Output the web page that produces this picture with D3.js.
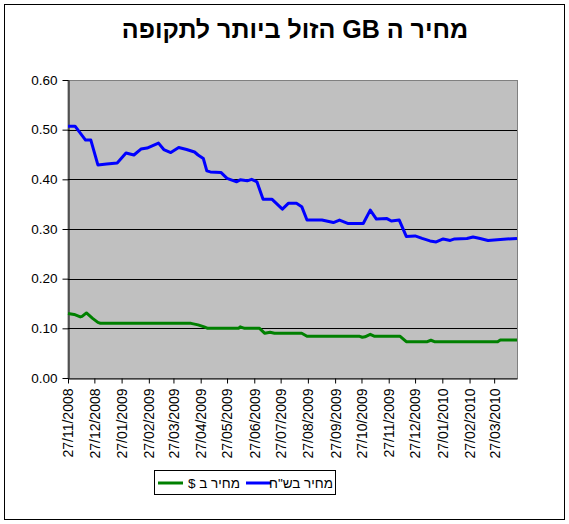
<!DOCTYPE html>
<html><head><meta charset="utf-8">
<script src="https://cdn.jsdelivr.net/npm/d3@7"></script>
<style>body{margin:0;background:#fff}svg{display:block}</style>
</head><body>
<script>
const title = "מחיר ה GB הזול ביותר לתקופה";
const seriesNames = ["מחיר ב $", "מחיר בש\"ח"];
const yTicks = [0, 0.1, 0.2, 0.3, 0.4, 0.5, 0.6];
const xTickLabels = ["27/11/2008","27/12/2008","27/01/2009","27/02/2009","27/03/2009","27/04/2009","27/05/2009","27/06/2009","27/07/2009","27/08/2009","27/09/2009","27/10/2009","27/11/2009","27/12/2009","27/01/2010","27/02/2010","27/03/2010"];
const xDomain = ["2008-11-27", "2010-04-22"];

const nisDates = ["2008-11-27","2008-12-05","2008-12-17","2008-12-23","2008-12-31","2009-01-10","2009-01-22","2009-02-01","2009-02-10","2009-02-18","2009-02-25","2009-03-10","2009-03-16","2009-03-24","2009-04-02","2009-04-11","2009-04-20","2009-04-24","2009-04-30","2009-05-04","2009-05-08","2009-05-20","2009-05-27","2009-06-07","2009-06-11","2009-06-19","2009-06-24","2009-06-30","2009-07-07","2009-07-17","2009-07-29","2009-08-05","2009-08-14","2009-08-20","2009-08-26","2009-09-12","2009-09-25","2009-10-02","2009-10-12","2009-10-29","2009-11-06","2009-11-13","2009-11-25","2009-11-30","2009-12-09","2009-12-17","2009-12-27","2010-01-04","2010-01-13","2010-01-20","2010-01-28","2010-02-05","2010-02-10","2010-02-24","2010-03-03","2010-03-11","2010-03-20","2010-04-03","2010-04-22"];
const nisValues = [0.507,0.507,0.479,0.479,0.429,0.431,0.433,0.453,0.449,0.461,0.463,0.473,0.460,0.454,0.464,0.460,0.455,0.449,0.442,0.417,0.415,0.414,0.402,0.395,0.399,0.397,0.400,0.395,0.360,0.360,0.340,0.352,0.352,0.345,0.318,0.318,0.313,0.318,0.311,0.311,0.338,0.320,0.321,0.316,0.318,0.285,0.286,0.281,0.276,0.274,0.280,0.277,0.280,0.281,0.284,0.281,0.277,0.279,0.281];

const usdDates = ["2008-11-27","2008-12-04","2008-12-11","2008-12-13","2008-12-18","2008-12-25","2008-12-31","2009-01-03","2009-04-16","2009-04-24","2009-05-01","2009-05-05","2009-06-09","2009-06-11","2009-06-16","2009-07-03","2009-07-09","2009-07-15","2009-07-20","2009-08-20","2009-08-26","2009-10-25","2009-10-28","2009-10-31","2009-11-06","2009-11-11","2009-12-10","2009-12-17","2010-01-10","2010-01-14","2010-01-18","2010-03-31","2010-04-03","2010-04-22"];
const usdValues = [0.130,0.128,0.123,0.124,0.131,0.120,0.112,0.110,0.110,0.107,0.103,0.100,0.100,0.103,0.100,0.100,0.090,0.092,0.090,0.090,0.084,0.084,0.082,0.083,0.088,0.084,0.084,0.073,0.073,0.076,0.073,0.073,0.0765,0.0765];

const W = 569, H = 524;
const pLeft = 68, pRight = 517, pTop = 80, pBottom = 378;
const font = "Arial, 'Liberation Sans', 'DejaVu Sans', sans-serif";
const parse = d3.utcParse("%Y-%m-%d");
const parseTick = d3.utcParse("%d/%m/%Y");

const svg = d3.select("body").append("svg").attr("width", W).attr("height", H);

svg.append("rect").attr("x", 4.5).attr("y", 4.5).attr("width", 560).attr("height", 515)
  .attr("fill", "#fff").attr("stroke", "#000").attr("stroke-width", 1);

const x = d3.scaleUtc().domain(xDomain.map(parse)).range([pLeft, pRight]);
const y = d3.scaleLinear().domain([0, 0.6]).range([pBottom, pTop]);

svg.append("rect").attr("x", pLeft).attr("y", pTop + 0.5).attr("width", pRight - pLeft + 0.5).attr("height", pBottom - pTop)
  .attr("fill", "#c0c0c0").attr("stroke", "#808080").attr("stroke-width", 1);

// gridlines
svg.append("g").selectAll("line").data(yTicks.filter(v => v > 0 && v < 0.6)).join("line")
  .attr("x1", pLeft).attr("x2", pRight)
  .attr("y1", d => Math.round(y(d)) + 0.5).attr("y2", d => Math.round(y(d)) + 0.5)
  .attr("stroke", "#000").attr("stroke-width", 1);

// y axis
const yAxis = svg.append("g").attr("transform", `translate(${pLeft + 0.5},0)`)
  .call(d3.axisLeft(y).tickValues(yTicks).tickFormat(d3.format(".2f")).tickSize(6).tickPadding(5).tickSizeOuter(0));
yAxis.select(".domain").attr("stroke", "#000");
yAxis.selectAll(".tick line").attr("stroke", "#000");
yAxis.selectAll("text").attr("font-family", font).attr("font-size", 13.5).attr("fill", "#000");

// x axis
const xAxis = svg.append("g").attr("transform", `translate(0,${pBottom + 0.5})`)
  .call(d3.axisBottom(x).tickValues(xTickLabels.map(parseTick)).tickFormat(d3.utcFormat("%d/%m/%Y")).tickSize(5).tickSizeOuter(0));
xAxis.select(".domain").attr("stroke", "#000");
xAxis.selectAll(".tick line").attr("stroke", "#000");
xAxis.selectAll("text").attr("font-family", font).attr("font-size", 14).attr("fill", "#000")
  .attr("transform", "rotate(-90)").attr("text-anchor", "end").attr("dy", "0.35em").attr("x", -10).attr("y", 0);

const line = d3.line().x(d => x(d[0])).y(d => y(d[1]));
const usd = usdDates.map((d, i) => [parse(d), usdValues[i]]);
const nis = nisDates.map((d, i) => [parse(d), nisValues[i]]);

svg.append("path").datum(usd).attr("d", line).attr("fill", "none").attr("stroke", "#008000")
  .attr("stroke-width", 3).attr("stroke-linejoin", "round");
svg.append("path").datum(nis).attr("d", line).attr("fill", "none").attr("stroke", "#0000ff")
  .attr("stroke-width", 3).attr("stroke-linejoin", "round");

// title
svg.append("text").attr("x", 295).attr("y", 38).attr("text-anchor", "middle")
  .attr("direction", "rtl").style("direction", "rtl").style("unicode-bidi", "embed")
  .attr("font-family", font).attr("font-weight", "bold").attr("font-size", 25).attr("fill", "#000")
  .text(title);

// legend
const lg = svg.append("g");
lg.append("rect").attr("x", 154.5).attr("y", 470.5).attr("width", 181).attr("height", 24)
  .attr("fill", "#fff").attr("stroke", "#000").attr("stroke-width", 1);
const items = [
  {name: seriesNames[0], color: "#008000", x0: 158, tx: 240},
  {name: seriesNames[1], color: "#0000ff", x0: 246, tx: 333}
];
items.forEach(it => {
  lg.append("line").attr("x1", it.x0).attr("x2", it.x0 + 25).attr("y1", 483).attr("y2", 483)
    .attr("stroke", it.color).attr("stroke-width", 3);
  lg.append("text").attr("x", it.tx).attr("y", 487.5).attr("text-anchor", "start")
    .attr("direction", "rtl").style("direction", "rtl").style("unicode-bidi", "embed")
    .attr("font-family", font).attr("font-size", 13.5).attr("fill", "#000").text(it.name);
});
</script>
</body></html>
